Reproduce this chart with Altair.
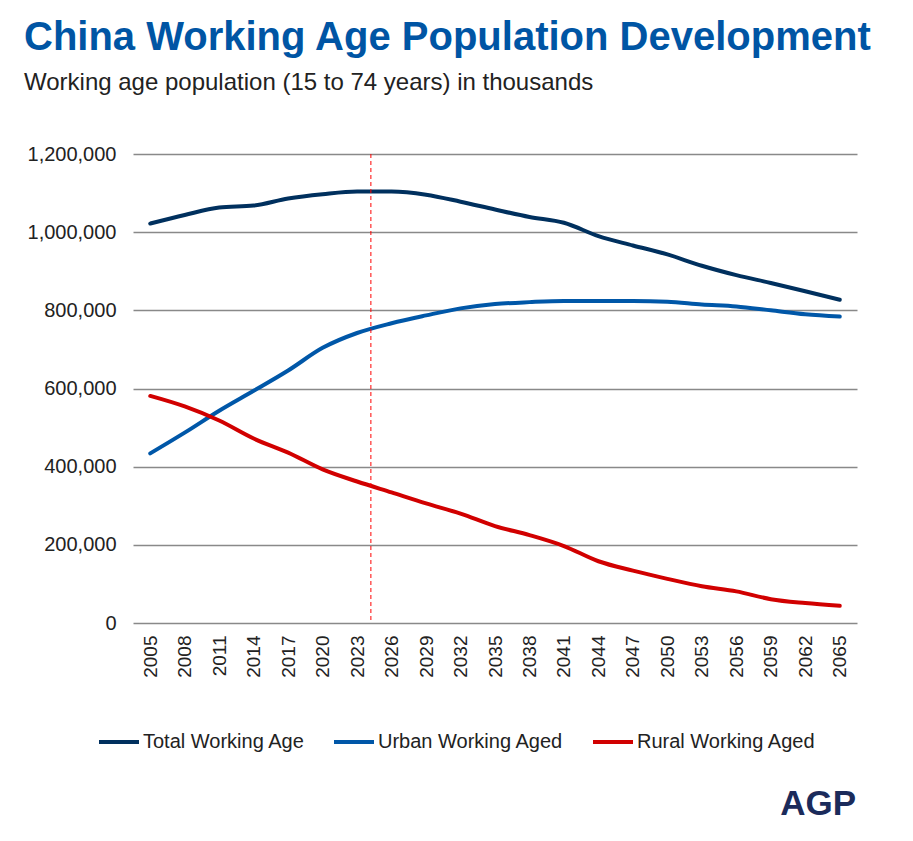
import altair as alt
import pandas as pd

years = [2005, 2008, 2011, 2014, 2017, 2020, 2023, 2026, 2029, 2032, 2035,
         2038, 2041, 2044, 2047, 2050, 2053, 2056, 2059, 2062, 2065]
total = [1022000, 1044000, 1063000, 1068000, 1086000, 1097000, 1104000, 1104000,
         1096000, 1078000, 1058000, 1039000, 1024000, 990000, 966000, 943000,
         914000, 890000, 870000, 849000, 827000]
urban = [434000, 487000, 543000, 594000, 646000, 704000, 742000, 767000, 787000,
         805000, 816000, 821000, 824000, 824000, 824000, 822000, 815000, 810000,
         800000, 790000, 784000]
rural = [581000, 554000, 518000, 472000, 436000, 393000, 362000, 334000, 306000,
         280000, 248000, 225000, 197000, 158000, 134000, 113000, 94000, 81000,
         61000, 51000, 44000]
series_names = ["Total Working Age", "Urban Working Aged", "Rural Working Aged"]
series_colors = ["#00305E", "#0057A8", "#D10000"]
y_ticks = [0, 200000, 400000, 600000, 800000, 1000000, 1200000]
marker_year = [2024.2]
logo_text = ["AGP"]

rows = []
for name, vals in zip(series_names, [total, urban, rural]):
    for yr, v in zip(years, vals):
        rows.append({"year": yr, "value": v, "series": name})
df = pd.DataFrame(rows)

FONT = "Liberation Sans"
x_scale = alt.Scale(domain=[2003.5, 2066.5], nice=False, zero=False)
x_axis = alt.Axis(values=years, format="d", labelAngle=-90, grid=False, ticks=False,
                  domain=False, labelPadding=12, labelFontSize=19, labelColor="#222222",
                  labelOverlap=False, labelSeparation=0, labelBound=False,
                  labelFlush=False, title=None)

y_enc = alt.Y(
    "value:Q",
    scale=alt.Scale(domain=[0, 1200000], nice=False),
    axis=alt.Axis(values=y_ticks, format=",d", grid=True, gridColor="#898989",
                  gridWidth=1.3, ticks=False, domain=False, labelPadding=17,
                  labelFontSize=20, labelColor="#222222", title=None),
)

lines = alt.Chart(df).mark_line(
    strokeWidth=4, strokeCap="round", strokeJoin="round", interpolate="monotone"
).encode(
    x=alt.X("year:Q", scale=x_scale, axis=x_axis),
    y=y_enc,
    color=alt.Color(
        "series:N",
        sort=series_names,
        scale=alt.Scale(domain=series_names, range=series_colors),
        legend=alt.Legend(
            title=None, orient="none", legendX=-36, legendY=566,
            direction="horizontal", symbolType="stroke", symbolStrokeWidth=4,
            symbolSize=1600, labelFontSize=20, labelOffset=2, columnPadding=21,
            labelColor="#222222", labelFont=FONT, labelLimit=0,
        ),
    ),
    detail="series:N",
)

rule = alt.Chart(pd.DataFrame({"year": marker_year})).mark_rule(
    color="#FF0000", strokeWidth=1, strokeDash=[4, 3]
).encode(x=alt.X("year:Q", scale=x_scale, axis=x_axis))

logo = alt.Chart(pd.DataFrame({"t": logo_text})).mark_text(
    font=FONT, fontSize=35, fontWeight="bold", color="#1B2B5B", align="right",
    baseline="alphabetic"
).encode(x=alt.value(723), y=alt.value(661), text="t:N")

chart = alt.layer(lines, rule, logo).properties(
    width=724,
    height=469,
    autosize=alt.AutoSizeParams(type="none"),
    padding={"left": 125, "top": 146, "right": 40, "bottom": 200},
    title=alt.TitleParams(
        text="China Working Age Population Development",
        subtitle="Working age population (15 to 74 years) in thousands",
        anchor="start", frame="group", dx=-109, offset=49,
        font=FONT, fontSize=40, fontWeight="bold", color="#0055A4",
        subtitleFont=FONT, subtitleFontSize=24, subtitleColor="#222222",
        subtitlePadding=13,
    ),
).configure(font=FONT).configure_view(stroke=None).configure_axis(labelOverlap=False)

chart.save("out.html", embed_options={"renderer": "svg", "actions": False})
